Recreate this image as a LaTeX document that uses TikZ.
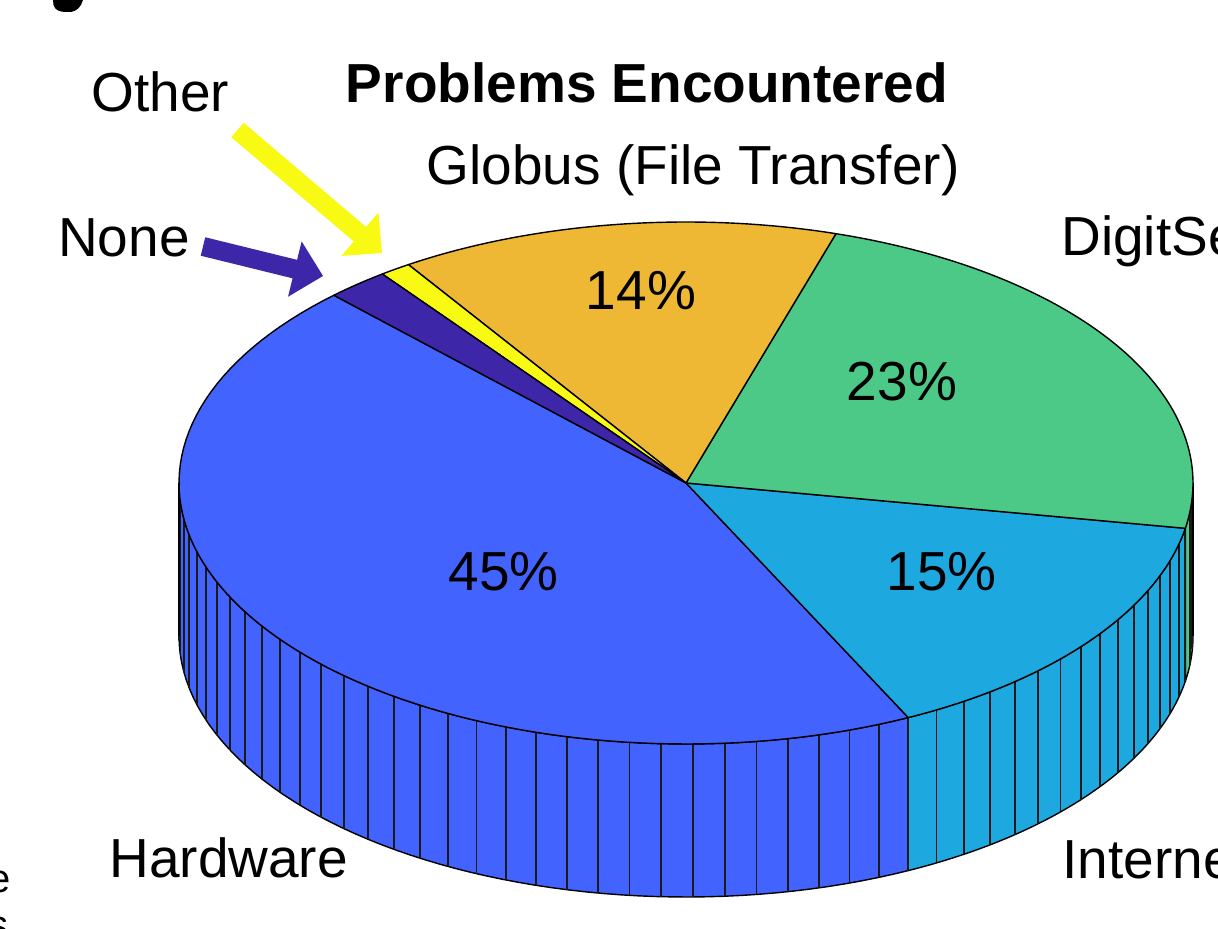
\documentclass[tikz,border=0pt]{standalone}
\usepackage{fontspec}
\setmainfont{Liberation Sans}
\usetikzlibrary{calc}
\definecolor{hardwarec}{RGB}{66,99,253}
\definecolor{internetc}{RGB}{30,168,224}
\definecolor{digitc}{RGB}{76,200,135}
\definecolor{globusc}{RGB}{238,183,52}
\definecolor{otherc}{RGB}{249,250,20}
\definecolor{nonec}{RGB}{62,38,168}
\def\cx{686}\def\cy{483}\def\rx{507}\def\ry{261}\def\dep{153}
\tikzset{
  lbl/.style={font=\fontsize{27.5}{33}\selectfont, inner sep=0pt, anchor=base},
  lblw/.style={font=\fontsize{27.5}{33}\selectfont, inner sep=0pt, anchor=base west},
  pct/.style={font=\fontsize{27.5}{33}\selectfont, inner sep=0pt, anchor=base},
  ttl/.style={font=\fontsize{27.5}{33}\selectfont\bfseries, inner sep=0pt, anchor=base},
  edge/.style={draw=black, line width=0.7pt, line join=round},
  facet/.style={draw=black!90, line width=0.9pt},
}
\newcommand\topslice[3]{%
  \filldraw[fill=#1, edge] (ctr) -- plot[domain=#2:#3, samples=90] ({\cx+\rx*cos(\x)},{\cy-\ry*sin(\x)}) -- cycle;}
\newcommand\sideslice[3]{%
  \filldraw[fill=#1, edge] plot[domain=#2:#3, samples=60] ({\cx+\rx*cos(\x)},{\cy-\ry*sin(\x)})
    -- plot[domain=#3:#2, samples=60] ({\cx+\rx*cos(\x)},{\cy+\dep-\ry*sin(\x)}) -- cycle;}
\newcommand\blockarrow[3]{%
  \coordinate (#2-hb) at ($(#3)!14.5pt!(#2)$);
  \fill[#1] ($(#2)!4.75pt!90:(#3)$) -- ($(#2-hb)!4.75pt!-90:(#2)$)
    -- ($(#2-hb)!14.25pt!-90:(#2)$) -- (#3) -- ($(#2-hb)!14.25pt!90:(#2)$)
    -- ($(#2-hb)!4.75pt!90:(#2)$) -- ($(#2)!4.75pt!-90:(#3)$) -- cycle;}
\begin{document}
\begin{tikzpicture}[x=0.5pt, y=-0.5pt]
\useasboundingbox (0,0) rectangle (1218,929);
\fill[white] (0,0) rectangle (1218,929);
\coordinate (ctr) at (\cx,\cy);

% cropped glyph pieces at the borders
\fill[black] (53,0) -- (53.5,5) .. controls (55,10) and (59,12) .. (66,12)
  -- (71,12) .. controls (77,11) and (81,7) .. (83,0) -- cycle;
\node[font=\fontsize{20}{24}\selectfont, inner sep=0pt, anchor=base west] (ecut) at (-12,892) {e};
\node[font=\fontsize{20}{24}\selectfont, inner sep=0pt, anchor=base west] (scut) at (-12,938) {s};

% side walls
\sideslice{hardwarec}{180}{296}
\sideslice{internetc}{296}{350}
\sideslice{digitc}{350}{360}
\foreach \k in {13,...,62}{
  \pgfmathsetmacro\t{134+3.6*\k}
  \draw[facet] ({\cx+\rx*cos(\t)},{\cy-\ry*sin(\t)}) -- ++(0,\dep);
}
\draw[edge] ({\cx-\rx},\cy) -- ++(0,\dep);
\draw[edge] ({\cx+\rx},\cy) -- ++(0,\dep);

% top
\topslice{hardwarec}{134}{296}
\topslice{internetc}{296}{350}
\topslice{digitc}{350}{432.8}
\topslice{globusc}{432.8}{483.2}
\topslice{otherc}{483.2}{486.8}
\topslice{nonec}{486.8}{494}

% percentages
\node[pct] (p14) at (641,310) {14\%};
\node[pct] (p23) at (902,400.5) {23\%};
\node[pct] (p45) at (503.5,590) {45\%};
\node[pct] (p15) at (941.5,590) {15\%};

% labels
\node[ttl] (title) at (647,103) {Problems Encountered};
\node[lbl] (other) at (160.5,112) {Other};
\node[lbl] (globus) at (693,185) {Globus (File Transfer)};
\node[lbl] (none) at (124,257) {None};
\node[lblw] (digit) at (1061,256) {DigitSe};
\node[lblw] (hardware) at (109,877) {Hardware};
\node[lblw] (internet) at (1062,878) {Interne};

% arrows
\coordinate (ytail) at (237.5,130);
\coordinate (ytip) at (382,253);
\coordinate (btail) at (203,246.5);
\coordinate (btip) at (323,276);
\blockarrow{otherc}{ytail}{ytip}
\blockarrow{nonec}{btail}{btip}
\end{tikzpicture}
\end{document}
